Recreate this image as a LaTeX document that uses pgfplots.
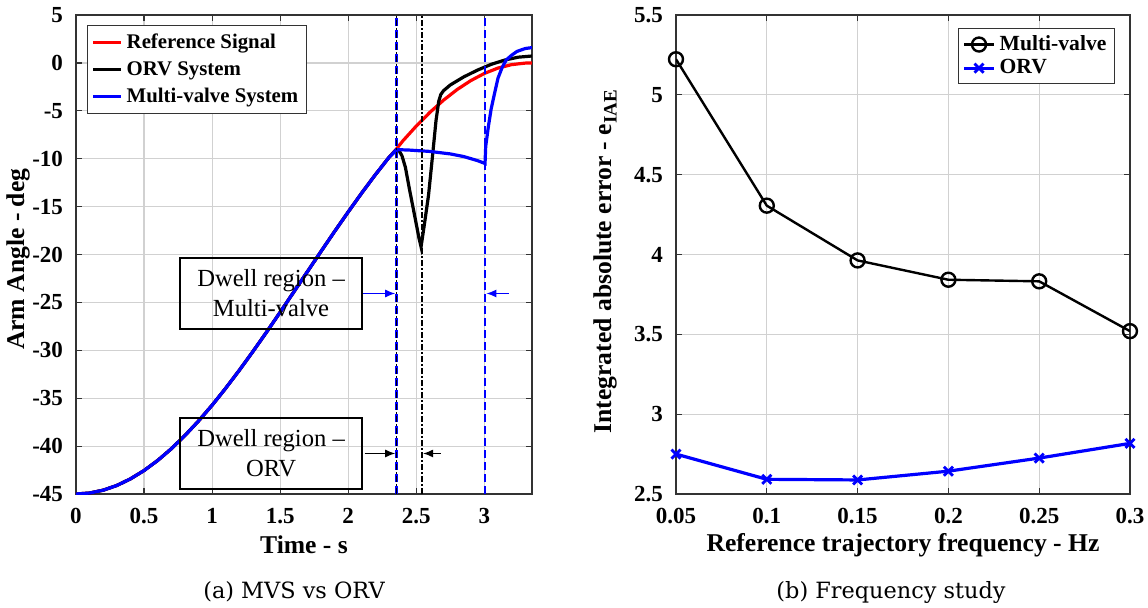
\documentclass[border=0pt]{standalone}
\usepackage{pgfplots}
\pgfplotsset{compat=1.18}
\usepackage{fontspec}
\setmainfont{Liberation Serif}
\newfontfamily\capfont{DejaVu Serif}
\usetikzlibrary{arrows.meta}
\definecolor{gridgray}{gray}{0.82}
\definecolor{axgray}{gray}{0.2}
\pgfplotsset{
  mystyle/.style={
    scale only axis,
    scaled ticks=false,
    axis line style={draw=axgray, line width=0.6pt},
    grid=major,
    major grid style={gridgray, line width=0.6pt},
    tick style={axgray, line width=0.6pt},
    major tick length=3pt,
    tick align=inside,
    /pgf/number format/assume math mode=true,
    ticklabel style={font=\fontsize{11.5}{12}\selectfont\bfseries, text=black},
    xticklabel style={yshift=-3.5pt},
    yticklabel style={xshift=-3pt},
    label style={font=\fontsize{12.8}{14}\selectfont\bfseries},
    legend cell align=left,
  }
}
\begin{document}
\begin{tikzpicture}
\useasboundingbox (-38pt,-56.5pt) rectangle (536pt,247pt);
% ---------------- left axis ----------------
\begin{axis}[mystyle,
  at={(0pt,0pt)}, anchor=south west,
  width=228pt, height=239.5pt,
  xmin=0, xmax=3.35, ymin=-45, ymax=5,
  xtick={0,0.5,1,1.5,2,2.5,3},
  ytick={-45,-40,-35,-30,-25,-20,-15,-10,-5,0,5},
  xlabel={Time - s},
  ylabel={Arm Angle - deg},
  xlabel style={at={(axis description cs:0.5,-0.1065)}, anchor=center},
  ylabel style={at={(axis description cs:-0.127,0.49)}, anchor=center},
  legend style={at={(0.024,0.979)}, anchor=north west,
    font=\fontsize{10.4}{11}\selectfont\bfseries, draw=axgray, line width=0.6pt,
    inner xsep=2pt, inner ysep=2pt, row sep=1pt},
  legend image code/.code={\draw[#1] (0pt,0pt) -- (14pt,0pt);},
]
\addplot[red, line width=1.6pt] coordinates {
(0,-45) (0.1,-44.90) (0.2,-44.60) (0.3,-44.11) (0.4,-43.42) (0.5,-42.55)
(0.6,-41.50) (0.7,-40.28) (0.8,-38.90) (0.9,-37.38) (1.0,-35.73) (1.1,-33.95)
(1.2,-32.08) (1.3,-30.12) (1.4,-28.10) (1.5,-26.02) (1.6,-23.91) (1.7,-21.79)
(1.8,-19.68) (1.9,-17.59) (2.0,-15.55) (2.1,-13.56) (2.2,-11.66) (2.3,-9.85)
(2.355,-8.97) (2.4,-8.16) (2.5,-6.59) (2.6,-5.16) (2.7,-3.89) (2.8,-2.78)
(2.9,-1.85) (3.0,-1.10) (3.1,-0.54) (3.2,-0.18) (3.3,-0.02) (3.35,0.0)};
\addlegendentry{Reference Signal}
\addplot[black, line width=1.6pt] coordinates {
(0,-45) (0.1,-44.90) (0.2,-44.60) (0.3,-44.11) (0.4,-43.42) (0.5,-42.55)
(0.6,-41.50) (0.7,-40.28) (0.8,-38.90) (0.9,-37.38) (1.0,-35.73) (1.1,-33.95)
(1.2,-32.08) (1.3,-30.12) (1.4,-28.10) (1.5,-26.02) (1.6,-23.91) (1.7,-21.79)
(1.8,-19.68) (1.9,-17.59) (2.0,-15.55) (2.1,-13.56) (2.2,-11.66) (2.3,-9.85)
(2.355,-9.05) (2.375,-9.2) (2.395,-9.7) (2.42,-10.9) (2.45,-13.2) (2.49,-16.1) (2.52,-18.3) (2.535,-19.2)
(2.56,-16.8) (2.59,-13.8) (2.62,-9.6) (2.645,-6.0) (2.665,-4.0) (2.68,-3.3) (2.70,-2.9) (2.75,-2.3)
(2.85,-1.45) (2.95,-0.75) (3.0,-0.45) (3.05,-0.15) (3.15,0.3) (3.25,0.6) (3.35,0.72)};
\addlegendentry{ORV System}
\addplot[blue, line width=1.6pt] coordinates {
(0,-45) (0.1,-44.90) (0.2,-44.60) (0.3,-44.11) (0.4,-43.42) (0.5,-42.55)
(0.6,-41.50) (0.7,-40.28) (0.8,-38.90) (0.9,-37.38) (1.0,-35.73) (1.1,-33.95)
(1.2,-32.08) (1.3,-30.12) (1.4,-28.10) (1.5,-26.02) (1.6,-23.91) (1.7,-21.79)
(1.8,-19.68) (1.9,-17.59) (2.0,-15.55) (2.1,-13.56) (2.2,-11.66) (2.3,-9.85)
(2.355,-9.05) (2.45,-9.10) (2.6,-9.24) (2.75,-9.5) (2.85,-9.78) (2.95,-10.2) (3.005,-10.5)
(3.01,-8.7) (3.03,-6.6) (3.05,-4.8) (3.07,-3.5) (3.10,-1.6) (3.13,-0.5) (3.16,0.3)
(3.20,0.8) (3.24,1.2) (3.30,1.5) (3.35,1.6)};
\addlegendentry{Multi-valve System}
% dwell lines
\addplot[blue, line width=1.2pt, dash pattern=on 4pt off 2pt, forget plot] coordinates {(2.355,-45) (2.355,5)};
\addplot[black, line width=0.5pt, dash pattern=on 3pt off 1.2pt on 0.6pt off 1.2pt, forget plot] coordinates {(2.355,-45) (2.355,5)};
\addplot[black, line width=0.9pt, dash pattern=on 3pt off 1.2pt on 0.6pt off 1.2pt, forget plot] coordinates {(2.54,-45) (2.54,5)};
\addplot[blue, line width=1.1pt, dash pattern=on 4pt off 2pt, forget plot] coordinates {(3.005,-45) (3.005,5)};
% annotations
\node[draw=black, line width=0.6pt, minimum width=91pt, minimum height=35.5pt, align=center,
  font=\fontsize{12.3}{15}\selectfont, inner sep=0pt] at (axis cs:1.433,-24.07) {Dwell region --\\Multi-valve};
\node[draw=black, line width=0.6pt, minimum width=91pt, minimum height=35.5pt, align=center,
  font=\fontsize{12.3}{15}\selectfont, inner sep=0pt] at (axis cs:1.433,-40.77) {Dwell region --\\ORV};
\draw[blue, line width=0.6pt, -{Latex[length=5pt,width=4pt]}] (axis cs:2.11,-24.07) -- (axis cs:2.345,-24.07);
\draw[blue, line width=0.6pt, -{Latex[length=5pt,width=4pt]}] (axis cs:3.18,-24.07) -- (axis cs:3.015,-24.07);
\draw[black, line width=0.6pt, -{Latex[length=5pt,width=4pt]}] (axis cs:2.12,-40.77) -- (axis cs:2.345,-40.77);
\draw[black, line width=0.6pt, -{Latex[length=5pt,width=4pt]}] (axis cs:2.68,-40.77) -- (axis cs:2.55,-40.77);
\end{axis}
% ---------------- right axis ----------------
\begin{axis}[mystyle,
  at={(300pt,0pt)}, anchor=south west,
  width=227pt, height=239.5pt,
  xmin=0.05, xmax=0.3, ymin=2.5, ymax=5.5,
  xtick={0.05,0.1,0.15,0.2,0.25,0.3},
  xticklabels={0.05,0.1,0.15,0.2,0.25,0.3},
  ytick={2.5,3,3.5,4,4.5,5,5.5},
  yticklabels={2.5,3,3.5,4,4.5,5,5.5},
  xlabel={Reference trajectory frequency - Hz},
  ylabel={Integrated absolute error - e\raisebox{-0.45ex}{\fontsize{9.5}{10}\selectfont IAE}},
  xlabel style={at={(axis description cs:0.5,-0.1065)}, anchor=center},
  ylabel style={at={(axis description cs:-0.156,0.485)}, anchor=center},
  legend style={at={(0.967,0.973)}, anchor=north east,
    font=\fontsize{10.8}{12}\selectfont\bfseries, draw=axgray, line width=0.6pt,
    inner xsep=2pt, inner ysep=1.5pt, row sep=-1pt},
  legend image code/.code={\draw[mark repeat=2,mark phase=2,#1] plot coordinates {(0pt,0pt) (7.5pt,0pt) (15pt,0pt)};},
]
\addplot[black, line width=1.2pt, mark=o, mark size=3.5pt, mark options={line width=1.2pt}] coordinates {
(0.05,5.223) (0.1,4.306) (0.15,3.963) (0.2,3.842) (0.25,3.832) (0.3,3.52)};
\addlegendentry{Multi-valve}
\addplot[blue, line width=1.6pt, mark=x, mark size=3.2pt, mark options={line width=1.4pt}] coordinates {
(0.05,2.75) (0.1,2.592) (0.15,2.588) (0.2,2.643) (0.25,2.725) (0.3,2.817)};
\addlegendentry{ORV}
\end{axis}
\node[font=\capfont\fontsize{11.2}{13}\selectfont] at (109pt,-49pt) {(a) MVS vs ORV};
\node[font=\capfont\fontsize{11.2}{13}\selectfont] at (407.5pt,-49pt) {(b) Frequency study};
\end{tikzpicture}
\end{document}
